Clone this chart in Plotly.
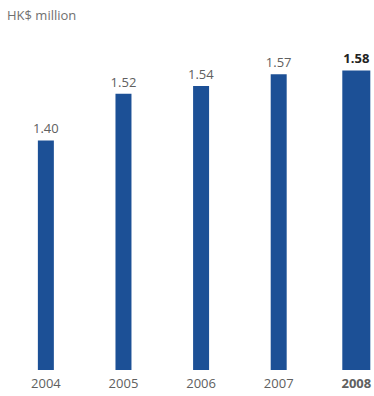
import plotly.graph_objects as go

years = ["2004", "2005", "2006", "2007", "2008"]
values = [1.40, 1.52, 1.54, 1.57, 1.58]
value_labels = ["1.40", "1.52", "1.54", "1.57", "<b>1.58</b>"]
tick_labels = ["2004", "2005", "2006", "2007", "<b>2008</b>"]
bar_widths = [0.206, 0.206, 0.206, 0.206, 0.361]

x = list(range(len(years)))
label_colors = ["#606060"] * 4 + ["#222222"]

fig = go.Figure()
fig.add_trace(go.Bar(
    x=x, y=values, width=bar_widths,
    marker=dict(color="#1c5096", line=dict(width=0)),
    text=value_labels, textposition="outside", constraintext="none",
    textfont=dict(family="Open Sans", size=13, color=label_colors),
    cliponaxis=False,
    base=0,
))

fig.update_layout(
    width=374, height=396,
    margin=dict(l=0, r=0, t=30, b=26),
    plot_bgcolor="white", paper_bgcolor="white",
    showlegend=False,
    xaxis=dict(range=[-0.591, 4.228], tickmode="array", tickvals=x, ticktext=tick_labels,
               showgrid=False, zeroline=False, showline=False, ticks="",
               ticklabelstandoff=4,
               tickfont=dict(family="Open Sans", size=13, color="#606060")),
    yaxis=dict(range=[0.81, 1.684], visible=False),
    annotations=[dict(text="HK$ million", x=0, y=1, xref="paper", yref="paper",
                      xanchor="left", yanchor="bottom", xshift=5, yshift=4, showarrow=False,
                      font=dict(family="Open Sans", size=13, color="#707070"))],
)

fig.write_html("out.html")
